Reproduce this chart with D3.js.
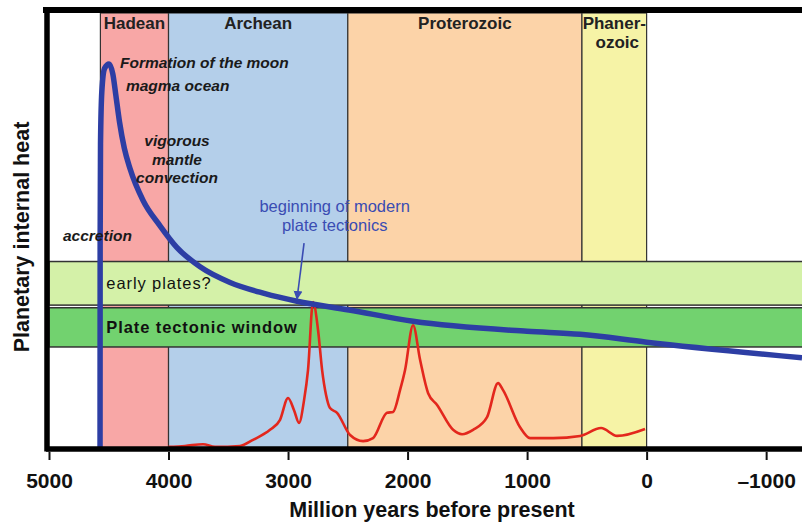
<!DOCTYPE html>
<html>
<head>
<meta charset="utf-8">
<script src="https://cdn.jsdelivr.net/npm/d3@7"></script>
<style>
  html, body { margin: 0; padding: 0; background: #fff; }
  svg { display: block; }
  text { font-family: 'Liberation Sans', Arial, sans-serif; }
</style>
</head>
<body>
<div id="chart"></div>
<script>
const width = 802
const height = 522

// geological eons (million years before present)
const eraNames = ['Hadean', 'Archean', 'Proterozoic', 'Phaner-\nozoic']
const eraStart = [4570, 4000, 2500, 541]
const eraEnd = [4000, 2500, 541, 0]
const eraColors = ['#f8a7a6', '#b4cfea', '#fcd3a8', '#f6f3a6']

// tectonic bands, in units of planetary heat (arbitrary 0..100)
const bandNames = ['early plates?', 'Plate tectonic window']
const bandLow = [33, 23.4]
const bandHigh = [43, 32.4]
const bandColors = ['#d4f1a8', '#72d26f']

// internal heat curve (Myr, heat)
const heatAge = [4573, 4572, 4569, 4558, 4535, 4497, 4466, 4440, 4410, 4370, 4322, 4213, 4071, 3929, 3736, 3485, 3200, 2925, 2490, 1954, 1000, 556, 0, -1300]
const heatValue = [0, 48, 70, 82, 87.3, 88.3, 86, 81, 75, 69, 64.3, 57, 51.2, 46.2, 41.8, 38.2, 35.7, 33.9, 31.9, 29.3, 27, 26.3, 24.5, 20.9]

// crustal growth / zircon age peaks (Myr, relative)
const zirconAge = [4000, 3862, 3711, 3611, 3402, 3293, 3151, 3067, 3000, 2950, 2908, 2866, 2833, 2791, 2749, 2715, 2682, 2649, 2590, 2481, 2372, 2289, 2172, 2121, 2063, 2021, 1954, 1895, 1828, 1753, 1619, 1544, 1452, 1335, 1243, 1201, 1059, 975, 782, 556, 381, 247, 13]
const zirconValue = [0.5, 0.7, 1.1, 0.5, 0.7, 2.1, 4.4, 6.7, 11.7, 8.9, 6.0, 11.2, 18.1, 33.7, 27.3, 18.1, 12.4, 9.4, 8.3, 3.2, 1.8, 2.5, 8.3, 8.5, 13.5, 18.1, 28.4, 20.4, 12.8, 10.1, 4.4, 3.4, 4.4, 7.3, 15.1, 13.5, 5.0, 2.5, 2.5, 3.0, 4.8, 3.0, 4.6]

const tickValues = [5000, 4000, 3000, 2000, 1000, 0, -1000]

// annotations: [text, age, heat, anchor]
const notes = [
  ['Formation of the moon', 4406, 87.5, 'start'],
  ['magma ocean', 4356, 82.1, 'start'],
  ['vigorous', 3929, 69.5, 'middle'],
  ['mantle', 3929, 65.1, 'middle'],
  ['convection', 3929, 60.9, 'middle'],
  ['accretion', 4883, 47.7, 'start']
]
const arrowFrom = [2866, 47.2]
const arrowTo = [2925, 34.4]

const x = d3.scaleLinear().domain([5000, -1300]).range([49, 802])
const y = d3.scaleLinear().domain([0, 100]).range([449, 13])

const svg = d3.select('#chart')
  .append('svg')
  .attr('width', width)
  .attr('height', height)

// eras
const eras = svg.append('g')
eraNames.forEach((name, i) => {
  eras.append('rect')
    .attr('x', x(eraStart[i]))
    .attr('y', y(100))
    .attr('width', x(eraEnd[i]) - x(eraStart[i]))
    .attr('height', y(0) - y(100))
    .attr('fill', eraColors[i])
    .attr('stroke', '#333')
    .attr('stroke-width', 1.2)
  const lines = name.split('\n')
  lines.forEach((l, j) => {
    eras.append('text')
      .attr('x', (x(eraStart[i]) + x(eraEnd[i])) / 2 + (j ? 3 : 0))
      .attr('y', y(96.4) + j * 19)
      .attr('text-anchor', 'middle')
      .attr('font-size', 17)
      .attr('font-weight', 'bold')
      .attr('fill', '#222')
      .text(l)
  })
})

// tectonic bands
bandNames.forEach((name, i) => {
  svg.append('rect')
    .attr('x', x(5000))
    .attr('y', y(bandHigh[i]))
    .attr('width', width - x(5000) + 2)
    .attr('height', y(bandLow[i]) - y(bandHigh[i]))
    .attr('fill', bandColors[i])
    .attr('stroke', '#333')
    .attr('stroke-width', 1.5)
  svg.append('text')
    .attr('x', x(4520))
    .attr('y', y((bandLow[i] + bandHigh[i]) / 2) + 6)
    .attr('font-family', 'DejaVu Sans, sans-serif')
    .attr('font-size', 16.5)
    .attr('letter-spacing', 0.9)
    .attr('font-weight', i ? 'bold' : 'normal')
    .attr('fill', '#111')
    .text(name)
})

// zircon curve
const zirconLine = d3.line()
  .x(d => x(d[0]))
  .y(d => y(d[1]))
  .curve(d3.curveMonotoneX)

svg.append('path')
  .datum(zirconAge.map((a, i) => [a, zirconValue[i]]))
  .attr('d', zirconLine)
  .attr('fill', 'none')
  .attr('stroke', '#e3271d')
  .attr('stroke-width', 2.6)

// heat curve
const heatLine = d3.line()
  .x(d => x(d[0]))
  .y(d => y(d[1]))
  .curve(d3.curveMonotoneX)

svg.append('path')
  .datum(heatAge.map((a, i) => [a, heatValue[i]]))
  .attr('d', heatLine)
  .attr('fill', 'none')
  .attr('stroke', '#2d3ea4')
  .attr('stroke-width', 5.5)
  .attr('stroke-linejoin', 'round')

// annotations
notes.forEach(n => {
  svg.append('text')
    .attr('x', x(n[1]))
    .attr('y', y(n[2]))
    .attr('text-anchor', n[3])
    .attr('font-size', 15.5)
    .attr('font-weight', 'bold')
    .attr('font-style', 'italic')
    .attr('fill', '#1a1a1a')
    .text(n[0])
})

const blueText = svg.append('text')
  .attr('text-anchor', 'middle')
  .attr('font-size', 16.5)
  .attr('fill', '#3a4cb3')
blueText.append('tspan').attr('x', x(2610)).attr('y', y(54.3)).text('beginning of modern')
blueText.append('tspan').attr('x', x(2610)).attr('y', y(49.9)).text('plate tectonics')

svg.append('defs').append('marker')
  .attr('id', 'arrow')
  .attr('viewBox', '0 0 10 10')
  .attr('refX', 9)
  .attr('refY', 5)
  .attr('markerWidth', 9)
  .attr('markerHeight', 10)
  .attr('markerUnits', 'userSpaceOnUse')
  .attr('orient', 'auto')
  .append('path')
  .attr('d', 'M0,0L10,5L0,10z')
  .attr('fill', '#3a4cb3')

svg.append('line')
  .attr('x1', x(arrowFrom[0]))
  .attr('y1', y(arrowFrom[1]))
  .attr('x2', x(arrowTo[0]))
  .attr('y2', y(arrowTo[1]))
  .attr('stroke', '#3a4cb3')
  .attr('stroke-width', 1.6)
  .attr('marker-end', 'url(#arrow)')

// axis
const axis = svg.append('g')
  .attr('transform', `translate(0,${y(0) + 3})`)
  .call(d3.axisBottom(x)
    .tickValues(tickValues)
    .tickSize(8)
    .tickSizeOuter(0)
    .tickFormat(d => d < 0 ? '\u2013' + Math.abs(d) : d))
axis.select('.domain').remove()
axis.selectAll('.tick line').attr('stroke', '#111').attr('stroke-width', 2)
axis.selectAll('.tick text')
  .attr('font-family', 'Liberation Sans, Arial, sans-serif')
  .attr('font-size', 21)
  .attr('font-weight', 'bold')
  .attr('fill', '#111')
  .attr('y', 21)
  .attr('dy', '0.71em')

// frame
svg.append('line')
  .attr('x1', x(5000) - 3).attr('x2', width)
  .attr('y1', y(0)).attr('y2', y(0))
  .attr('stroke', '#000').attr('stroke-width', 5.5)
svg.append('line')
  .attr('x1', x(5000) - 6).attr('x2', width)
  .attr('y1', y(100) - 3).attr('y2', y(100) - 3)
  .attr('stroke', '#000').attr('stroke-width', 6)
svg.append('line')
  .attr('x1', x(5000) - 2).attr('x2', x(5000) - 2)
  .attr('y1', y(100) - 6).attr('y2', y(0) + 2.5)
  .attr('stroke', '#000').attr('stroke-width', 5.5)

svg.append('text')
  .attr('x', 432)
  .attr('y', 517)
  .attr('text-anchor', 'middle')
  .attr('font-size', 21.5)
  .attr('font-weight', 'bold')
  .attr('fill', '#111')
  .text('Million years before present')

svg.append('text')
  .attr('transform', 'translate(29,237) rotate(-90)')
  .attr('text-anchor', 'middle')
  .attr('font-size', 21.5)
  .attr('font-weight', 'bold')
  .attr('fill', '#111')
  .text('Planetary internal heat')
</script>
</body>
</html>
